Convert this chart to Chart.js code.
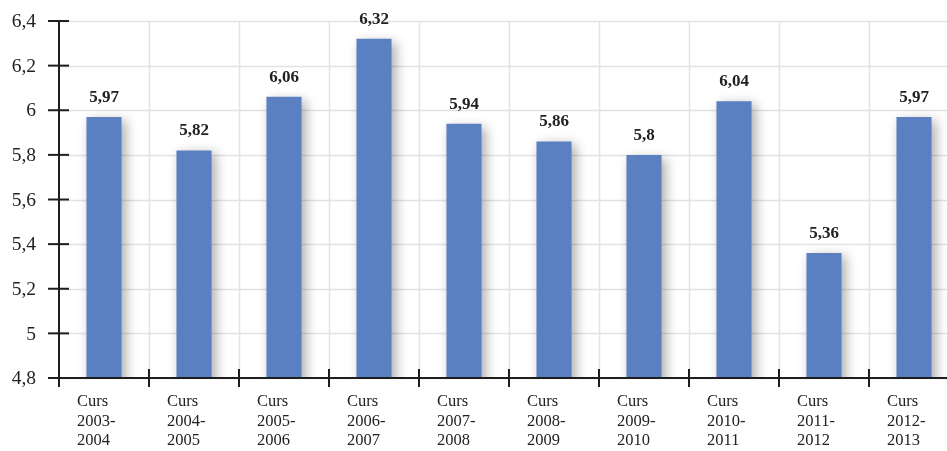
<!DOCTYPE html>
<html lang="ca">
<head>
  <meta charset="UTF-8">
  <title>Curs</title>
  <script src="https://cdn.jsdelivr.net/npm/chart.js"></script>
  <style>
    html, body { margin: 0; padding: 0; background: #fff; overflow: hidden; }
    #wrap { width: 960px; height: 451px; position: relative; }
  </style>
</head>
<body>
  <div id="wrap"><canvas id="chart"></canvas></div>
  <script>
    // data
    const categories = [
      ['Curs', '2003-', '2004'], ['Curs', '2004-', '2005'], ['Curs', '2005-', '2006'],
      ['Curs', '2006-', '2007'], ['Curs', '2007-', '2008'], ['Curs', '2008-', '2009'],
      ['Curs', '2009-', '2010'], ['Curs', '2010-', '2011'], ['Curs', '2011-', '2012'],
      ['Curs', '2012-', '2013']
    ];
    const values = [5.97, 5.82, 6.06, 6.32, 5.94, 5.86, 5.8, 6.04, 5.36, 5.97];
    const yTicks = [4.8, 5, 5.2, 5.4, 5.6, 5.8, 6, 6.2, 6.4];

    const SERIF = '"Liberation Serif", "DejaVu Serif", serif';
    const fmt = v => String(v).replace('.', ',');

    // gridlines, shadows, axes with crossing ticks, labels
    const decor = {
      id: 'decor',
      beforeDatasetsDraw(chart) {
        const { ctx, chartArea: a, scales: { x, y } } = chart;
        ctx.save();
        ctx.strokeStyle = '#e3e3e3';
        ctx.lineWidth = 1.5;
        yTicks.forEach(t => {
          const py = Math.round(y.getPixelForValue(t)) + 0.5;
          ctx.beginPath(); ctx.moveTo(a.left, py); ctx.lineTo(a.right, py); ctx.stroke();
        });
        for (let i = 1; i <= categories.length; i++) {
          const px = Math.round(x.getPixelForValue(i - 0.5)) + 0.5;
          ctx.beginPath(); ctx.moveTo(px, a.top); ctx.lineTo(px, a.bottom); ctx.stroke();
        }
        ctx.restore();
        ctx.save();
        ctx.shadowColor = 'rgba(0,0,0,0.32)';
        ctx.shadowBlur = 11;
        ctx.shadowOffsetX = 4;
        ctx.shadowOffsetY = 3;
      },
      afterDatasetsDraw(chart) {
        const { ctx, chartArea: a, scales: { x, y } } = chart;
        ctx.restore();
        ctx.save();
        ctx.strokeStyle = '#1e1e1e';
        ctx.lineWidth = 2;
        // y axis
        ctx.beginPath(); ctx.moveTo(a.left, a.top); ctx.lineTo(a.left, a.bottom + 9); ctx.stroke();
        yTicks.forEach(t => {
          const py = y.getPixelForValue(t);
          ctx.beginPath(); ctx.moveTo(a.left - 11, py); ctx.lineTo(a.left + 10, py); ctx.stroke();
        });
        // x axis
        ctx.beginPath(); ctx.moveTo(a.left, a.bottom); ctx.lineTo(a.right, a.bottom); ctx.stroke();
        for (let i = 1; i <= categories.length; i++) {
          const px = x.getPixelForValue(i - 0.5);
          ctx.beginPath(); ctx.moveTo(px, a.bottom - 9); ctx.lineTo(px, a.bottom + 9); ctx.stroke();
        }
        // y tick labels
        ctx.fillStyle = '#222';
        ctx.font = '19.5px ' + SERIF;
        ctx.textAlign = 'right';
        ctx.textBaseline = 'middle';
        yTicks.forEach(t => ctx.fillText(fmt(t), a.left - 23, y.getPixelForValue(t) + 1));
        // x labels, left-aligned blocks
        ctx.font = '16.5px ' + SERIF;
        ctx.textAlign = 'left';
        ctx.textBaseline = 'alphabetic';
        categories.forEach((lines, i) => {
          const px = x.getPixelForValue(i) - 27;
          lines.forEach((s, j) => ctx.fillText(s, px, a.bottom + 28 + j * 19.5));
        });
        // value labels
        ctx.font = 'bold 17px ' + SERIF;
        ctx.textAlign = 'center';
        const meta = chart.getDatasetMeta(0);
        meta.data.forEach((bar, i) => ctx.fillText(fmt(values[i]), bar.x, bar.y - 15));
        ctx.restore();
      }
    };

    new Chart(document.getElementById('chart'), {
      type: 'bar',
      data: {
        labels: categories,
        datasets: [{
          data: values,
          backgroundColor: '#5a80c1',
          barPercentage: 0.39,
          categoryPercentage: 1
        }]
      },
      options: {
        responsive: true,
        maintainAspectRatio: false,
        animation: false,
        layout: { padding: { left: 59, top: 21, right: 1, bottom: 73 } },
        plugins: { legend: { display: false }, tooltip: { enabled: false } },
        scales: {
          x: {
            offset: true,
            grid: { display: false, drawTicks: false },
            border: { display: false },
            ticks: { display: false }
          },
          y: {
            min: 4.8, max: 6.4,
            grid: { display: false, drawTicks: false },
            border: { display: false },
            ticks: { display: false }
          }
        }
      },
      plugins: [decor]
    });
  </script>
</body>
</html>
